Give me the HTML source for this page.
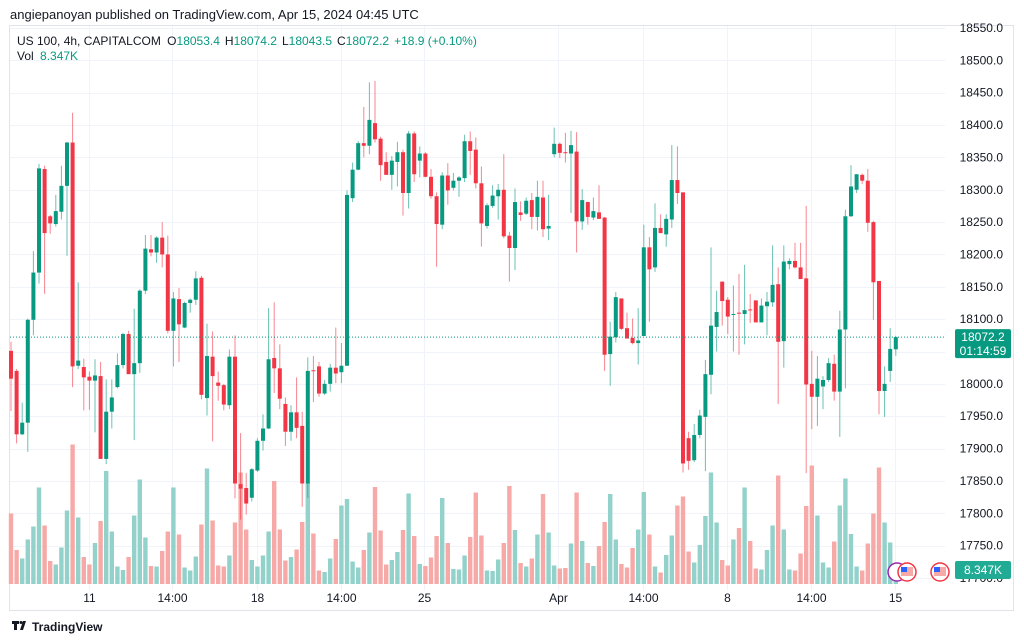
<!DOCTYPE html>
<html><head><meta charset="utf-8">
<style>
body{margin:0;background:#fff;width:1024px;height:643px;overflow:hidden;font-family:"Liberation Sans",sans-serif}
svg{display:block}
text{font-family:"Liberation Sans",sans-serif}
</style></head>
<body>
<svg id="chart" width="1024" height="643" xmlns="http://www.w3.org/2000/svg">
<rect x="0" y="0" width="1024" height="643" fill="#ffffff"/>
<rect x="9.5" y="25.5" width="1004" height="585" fill="none" stroke="#e0e3eb"/>
<g id="grid"></g>
<g id="vol"></g>
<g id="candles"></g>
<g id="axes"></g>
<text x="10" y="19" font-size="13" fill="#131722">angiepanoyan published on TradingView.com, Apr 15, 2024 04:45 UTC</text>
<text x="17" y="45" font-size="12" fill="#131722">US 100, 4h, CAPITALCOM <tspan dx="3">O</tspan><tspan fill="#089981">18053.4</tspan><tspan dx="5">H</tspan><tspan fill="#089981">18074.2</tspan><tspan dx="5">L</tspan><tspan fill="#089981">18043.5</tspan><tspan dx="5">C</tspan><tspan fill="#089981">18072.2</tspan><tspan dx="5" fill="#089981">+18.9 (+0.10%)</tspan></text>
<text x="17" y="60" font-size="12" fill="#131722">Vol <tspan dx="3" fill="#089981">8.347K</tspan></text>
<g>
<path d="M12 621h7v3h-2v6h-3v-6h-2z M20 630l3-9h3l-3 9z" fill="#131722"/>
<circle cx="21" cy="622.5" r="1.5" fill="#131722"/>
<text x="32" y="631" font-size="12" font-weight="bold" fill="#131722">TradingView</text>
</g>
</svg>
<script>
var opens=[18051,18020,17922,17940,18099,18172,18332,18259,18247,18266,18306,18373,18028,18026,18011,18005,18012,17884,17957,17995,18029,18077,18015,18032,18144,18208,18203,18226,18200,18082,18131,18087,18125,18130,18164,17978,18042,18002,17998,17967,18042,17845,17839,17824,17866,17912,17931,18040,18024,17969,17926,17956,17935,17846,18021,18027,17985,18000,18025,18018,18028,18287,18331,18372,18368,18403,18379,18343,18323,18343,18358,18295,18387,18345,18356,18320,18290,18246,18322,18303,18314,18318,18375,18362,18310,18244,18275,18290,18300,18229,18210,18265,18263,18284,18258,18288,18240,18355,18371,18358,18356,18359,18251,18281,18257,18265,18257,18046,18072,18132,18086,18071,18063,18074,18211,18180,18241,18231,18254,18315,18296,17916,17882,17921,17949,18014,18088,18158,18130,18107,18110,18108,18115,18129,18095,18120,18126,18154,18066,18185,18190,18180,18163,18000,17980,17996,18006,18031,17988,18084,18259,18300,18323,18314,18250,18159,17989,18020,18053.4];
var highs=[18065,18023,17971,18101,18205,18340,18337,18261,18292,18337,18374,18419,18157,18039,18019,18038,18034,18007,18007,18047,18079,18082,18116,18146,18230,18230,18228,18250,18229,18142,18148,18127,18132,18174,18167,18093,18081,18019,18000,18053,18075,17924,17862,17870,17916,17953,18117,18126,18061,17979,17967,18010,17957,18041,18043,18034,18006,18031,18087,18063,18299,18342,18375,18428,18466,18468,18382,18358,18352,18374,18362,18391,18390,18367,18358,18332,18296,18327,18341,18326,18321,18385,18390,18381,18336,18279,18307,18309,18355,18235,18302,18282,18288,18295,18314,18314,18292,18396,18373,18388,18391,18389,18301,18282,18288,18307,18258,18096,18142,18132,18110,18101,18117,18246,18227,18279,18262,18262,18369,18367,18296,17926,17938,17960,18037,18211,18144,18158,18134,18152,18170,18184,18139,18129,18132,18142,18214,18180,18214,18194,18218,18218,18275,18051,18043,18012,18040,18045,18113,18269,18338,18324,18325,18332,18252,18159,18027,18086,18074.2];
var lows=[17958,17908,17921,17895,18075,18155,18139,18232,18243,18254,18198,17995,18023,17959,17960,17925,17884,17876,17931,17993,18024,18015,17913,18017,18139,18197,18187,18180,18078,18027,18034,18086,18110,18122,17976,17951,17911,17974,17959,17961,17823,17790,17798,17818,17864,17897,17930,17986,17961,17904,17912,17916,17810,17824,17972,17980,17983,17988,18001,18001,18028,18281,18330,18350,18355,18373,18314,18323,18300,18305,18260,18271,18312,18319,18319,18286,18181,18239,18277,18299,18289,18312,18323,18302,18212,18240,18272,18254,18225,18158,18176,18252,18261,18239,18237,18227,18222,18350,18349,18342,18264,18203,18238,18246,18253,18255,18020,17997,18064,18083,18070,18061,18030,18074,18096,18173,18233,18212,18241,18278,17863,17867,17879,17916,17865,17984,18050,18090,18077,18050,18045,18061,18094,18095,18095,18075,18119,17969,18025,18177,18178,18162,17862,17930,17935,17961,18003,17974,17918,17993,18258,18295,18309,18235,18099,17953,17949,18003,18043.5];
var closes=[18008,17922,17940,18099,18172,18333,18233,18248,18267,18306,18373,18027,18036,18010,18005,18013,17884,17957,17979,18029,18077,18015,18032,18144,18209,18203,18226,18200,18082,18132,18092,18125,18130,18163,17983,18043,18012,17997,17968,18042,17846,17838,17815,17868,17912,17931,18038,18024,17977,17926,17956,17932,17846,18020,18020,17985,18000,18025,18016,18028,18292,18331,18372,18368,18408,18378,18338,18323,18345,18358,18295,18387,18324,18356,18320,18290,18247,18322,18299,18314,18319,18375,18360,18310,18248,18276,18291,18300,18228,18210,18281,18261,18283,18258,18289,18239,18244,18371,18357,18357,18369,18251,18284,18258,18267,18255,18045,18073,18134,18085,18070,18063,18067,18211,18177,18241,18233,18255,18315,18295,17877,17881,17921,17951,18015,18090,18111,18128,18104,18108,18109,18114,18114,18095,18121,18127,18153,18065,18189,18190,18180,18162,17999,17980,18008,18006,18032,17988,18084,18259,18305,18324,18314,18249,18157,17989,18000,18054,18072.2];
var volumes=[14.1,6.8,5.1,8.9,11.5,19.3,11.7,4.6,3.9,7.3,14.7,27.9,13.3,5.4,3.9,8.2,12.6,22.6,10.5,3.5,2.8,5.4,13.7,20.9,9.3,3.6,3.5,6.6,10.5,19.3,9.9,3.3,2.7,5.5,11.9,23.1,12.7,3.7,3.5,5.7,12.3,22.3,10.9,4.8,3.5,5.7,10.5,20.6,10.9,4.7,5.4,6.9,12.4,20.3,10.1,2.7,2.4,5.1,9,15.7,17,4.5,3.3,6.8,10.3,19.4,10.7,3.9,4.8,6.4,10.8,18.1,9.6,4,3.6,5.3,9.6,17.2,8.2,3,2.9,5.7,9.4,18.3,9.7,2.7,2.6,4.9,8.2,19.6,10.8,4.2,3.5,5.1,9.9,18,10.3,3.7,3.1,3.2,8.1,18.3,8.6,4.2,3.6,7.6,12.4,18,8.9,4,3.3,7.2,10.9,18.4,9.9,3.5,2.3,5.8,9.7,15.7,17.5,6.5,4.3,7.8,13.6,22.3,12.3,4.8,3.7,8.9,11.2,19.3,8.6,3.1,2.9,6.8,11.7,21.7,10.9,2.9,2.7,6.1,15.6,23.7,13.7,4.3,3.3,8.5,15.7,21.1,10,3.5,2.7,8.1,14.1,23.3,12.3,8.3,3.0];
var priceTicks=[18550,18500,18450,18400,18350,18300,18250,18200,18150,18100,18050,18000,17950,17900,17850,17800,17750,17700];
var timeLabels=["11","14:00","18","14:00","25","Apr","14:00","8","14:00","15"];
var timeLabelIdx=[14,28.7,43.9,58.9,73.8,97.7,112.9,127.9,142.9,157.9];
var lastPrice=18072.2;

var NS="http://www.w3.org/2000/svg";
function X(i){return 11+i*5.6;}
function Y(p){return 28+(18550-p)*0.647;}
function YV(v){return 584-v*5;}
function mk(tag,attrs,parent){var e=document.createElementNS(NS,tag);for(var k in attrs)e.setAttribute(k,attrs[k]);parent.appendChild(e);return e;}
(function(){
var grid=document.getElementById('grid'),axes=document.getElementById('axes'),vol=document.getElementById('vol'),cg=document.getElementById('candles');

priceTicks.forEach(function(p){
  var y=Math.round(Y(p))+0.5;
  var l=mk('line',{x1:10,x2:945,y1:y,y2:y,stroke:'#f0f3fa','stroke-width':1},grid);
  
  
  var t=mk('text',{x:1003,y:Y(p)+4,'font-size':12,fill:'#131722','text-anchor':'end'},axes);
  t.textContent=p.toFixed(1);
  
  
});
timeLabels.forEach(function(s,k){
  var x=Math.round(X(timeLabelIdx[k]))+0.5;
  var l=mk('line',{x1:x,x2:x,y1:26,y2:590,stroke:'#f0f3fa','stroke-width':1},grid);
  
  
  var t=mk('text',{x:x,y:602,'font-size':12,fill:'#131722','text-anchor':'middle'},axes);
  t.textContent=s;
  
  
});

for(var i=0;i<closes.length;i++){
  var up=closes[i]>=opens[i];
  var vb=mk('rect',{x:X(i)-2.2,y:YV(volumes[i]),width:4.4,height:584-YV(volumes[i]),fill:up?'#92d2cb':'#f7a9a7'},vol);
  
  
  var col=up?'#089981':'#f23645';
  var w=mk('line',{x1:X(i),x2:X(i),y1:Y(highs[i]),y2:Y(lows[i]),stroke:col,'stroke-width':1,opacity:0.6},cg);
  
  
  var bTop=Y(Math.max(opens[i],closes[i])),bBot=Y(Math.min(opens[i],closes[i]));
  var b=mk('rect',{x:X(i)-2,y:bTop,width:4,height:Math.max(1,bBot-bTop),fill:col},cg);
  
  
}
var ly=Y(lastPrice);
var pl=mk('line',{x1:10,x2:945,y1:ly,y2:ly,stroke:'#089981','stroke-width':1,'stroke-dasharray':'1 2'},axes);


var pb=mk('rect',{x:955,y:ly-8,width:56,height:29,rx:2,fill:'#089981'},axes);


var t1=mk('text',{x:983,y:ly+4,'font-size':12,fill:'#ffffff','text-anchor':'middle'},axes);
t1.textContent='18072.2';


var t2=mk('text',{x:983,y:ly+18,'font-size':12,fill:'#ffffff','text-anchor':'middle'},axes);
t2.textContent='01:14:59';


var vbx=mk('rect',{x:955,y:561,width:56,height:18,rx:2,fill:'#22ab94'},axes);


var vt=mk('text',{x:983,y:574,'font-size':12,fill:'#ffffff','text-anchor':'middle'},axes);
vt.textContent='8.347K';


[[897,'#9c27b0'],[907,'#f23645'],[940,'#f23645']].forEach(function(a){
  var c=mk('circle',{cx:a[0],cy:572,r:9,fill:'#ffffff',stroke:a[1],'stroke-width':1.5},axes);
  
  
  if(a[1]=='#f23645'){
    var f=mk('rect',{x:a[0]-6,y:567,width:12,height:9,fill:'#f7a9a7'},axes);
    
    
    var f2=mk('rect',{x:a[0]-6,y:567,width:6,height:5,fill:'#2962ff'},axes);
    
    
  }
});
})();
</script>
</body></html>
